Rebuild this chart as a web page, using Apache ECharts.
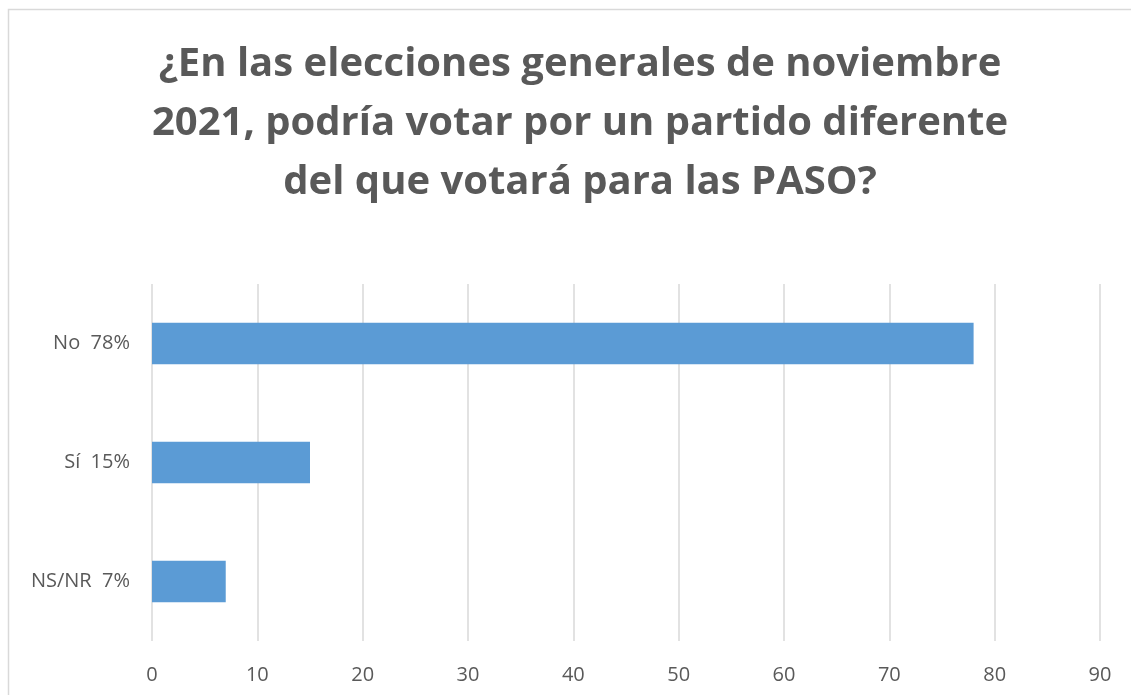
<!DOCTYPE html>
<html>
<head>
<meta charset="utf-8">
<script src="https://cdn.jsdelivr.net/npm/echarts@6/dist/echarts.min.js"></script>
<style>
  html, body { margin: 0; padding: 0; background: #fff; }
  #main { width: 1131px; height: 695px; }
</style>
</head>
<body>
<div id="main"></div>
<script>
// datos del grafico
var categorias = ['NS/NR  7%', 'Sí  15%', 'No  78%'];
var valores = [7, 15, 78];
var titulo = '¿En las elecciones generales de noviembre\n2021, podría votar por un partido diferente\ndel que votará para las PASO?';

var chart = echarts.init(document.getElementById('main'));
var option = {
    backgroundColor: '#fff',
    animation: false,
    graphic: [{
        type: 'rect',
        shape: { x: 8.5, y: 9.5, width: 1200, height: 800 },
        style: { fill: 'none', stroke: '#d9d9d9', lineWidth: 1.5 },
        silent: true
    }],
    title: {
        text: titulo,
        left: 575,
        top: 30,
        textAlign: 'center',
        textStyle: {
            fontFamily: 'Open Sans',
            fontWeight: 'bold',
            fontSize: 40,
            lineHeight: 59,
            color: '#595959'
        }
    },
    grid: { left: 152, right: 31, top: 284, bottom: 54 },
    xAxis: {
        type: 'value',
        min: 0,
        max: 90,
        interval: 10,
        axisLine: { show: false },
        axisTick: { show: false },
        splitLine: { lineStyle: { color: '#d9d9d9', width: 1.5 } },
        axisLabel: { color: '#595959', fontFamily: 'Open Sans', fontSize: 20, margin: 24 }
    },
    yAxis: {
        type: 'category',
        data: categorias,
        axisLine: { show: false },
        axisTick: { show: false },
        axisLabel: { color: '#595959', fontFamily: 'Open Sans', fontSize: 20, margin: 22 }
    },
    series: [{
        type: 'bar',
        data: valores,
        barWidth: '35%',
        itemStyle: { color: '#5b9bd5' }
    }]
};
chart.setOption(option);
</script>
</body>
</html>
